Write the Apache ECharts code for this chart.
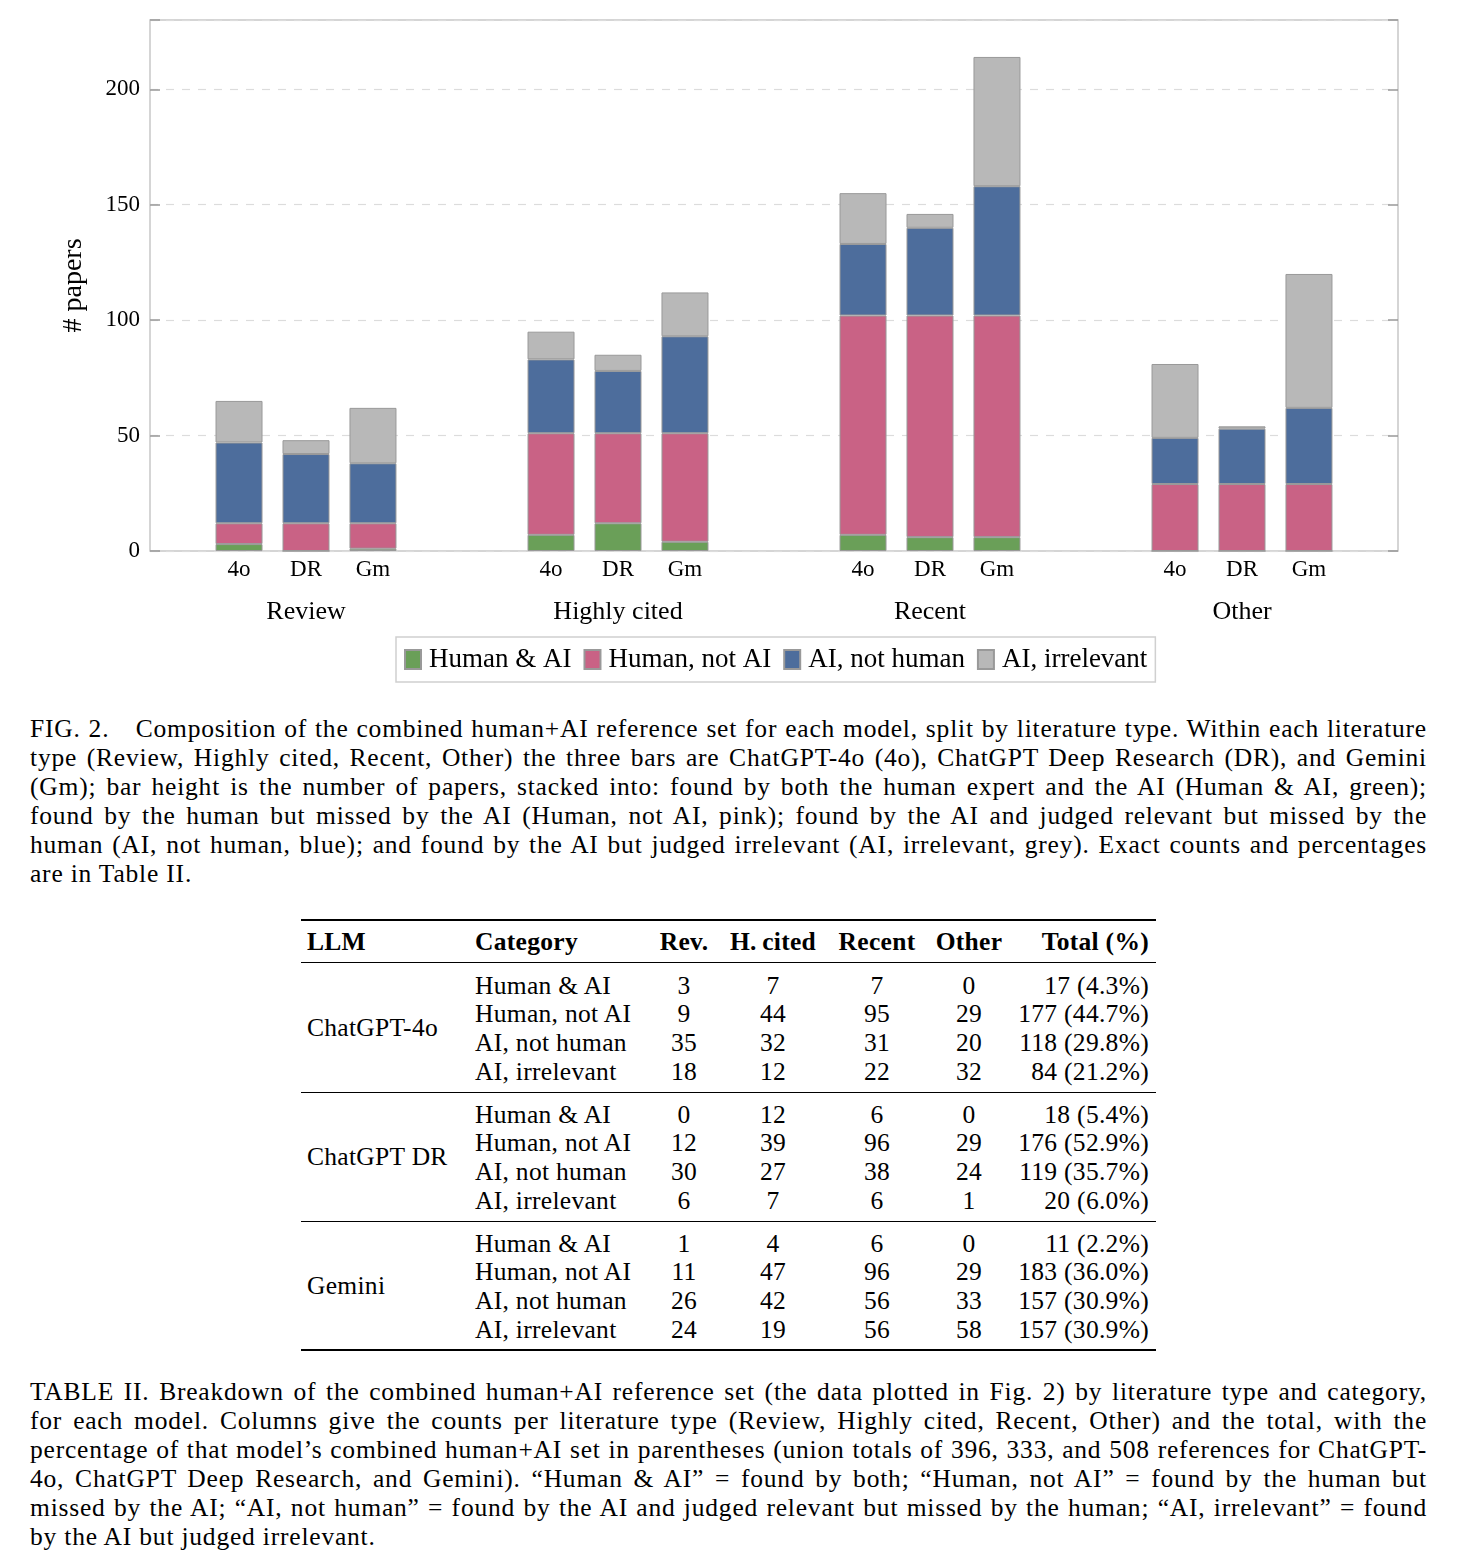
<!DOCTYPE html>
<html>
<head>
<meta charset="utf-8">
<script src="https://cdn.jsdelivr.net/npm/echarts@6/dist/echarts.min.js"></script>
<style>
  html, body { margin: 0; padding: 0; background: #fff; }
  body { width: 1463px; height: 1566px; position: relative; overflow: hidden;
         font-family: "Liberation Serif", "DejaVu Serif", serif; color: #000; }
  #chart { position: absolute; left: 0; top: 0; width: 1463px; height: 700px; }
  .cap { position: absolute; left: 30px; width: 1397px; font-size: 25.5px; line-height: 29px; letter-spacing: 0.8px; }
  .cap div { white-space: nowrap; text-align: justify; text-align-last: justify; }
  .cap div.last { text-align-last: left; }
  .cell { position: absolute; font-size: 25.5px; line-height: 29px; white-space: nowrap; letter-spacing: 0.3px; }
  .rule { position: absolute; left: 301px; width: 855px; background: #000; }
</style>
</head>
<body>
<div id="chart"></div>
<div class="cap" id="figcap" style="top:714px"></div>
<div id="table"></div>
<div class="cap" id="tabcap" style="top:1377px"></div>
<script>
// ---------- data ----------
const literatureTypes = ['Review', 'Highly cited', 'Recent', 'Other'];
const tableColumns = ['Rev.', 'H.\u2009cited', 'Recent', 'Other'];
const modelShort = ['4o', 'DR', 'Gm'];
const modelNames = ['ChatGPT-4o', 'ChatGPT DR', 'Gemini'];
const segments = ['Human & AI', 'Human, not AI', 'AI, not human', 'AI, irrelevant'];

const gpt4oHumanAI      = [3, 7, 7, 0];
const gpt4oHumanNotAI   = [9, 44, 95, 29];
const gpt4oAINotHuman   = [35, 32, 31, 20];
const gpt4oAIIrrelevant = [18, 12, 22, 32];

const drHumanAI      = [0, 12, 6, 0];
const drHumanNotAI   = [12, 39, 96, 29];
const drAINotHuman   = [30, 27, 38, 24];
const drAIIrrelevant = [6, 7, 6, 1];

const gmHumanAI      = [1, 4, 6, 0];
const gmHumanNotAI   = [11, 47, 96, 29];
const gmAINotHuman   = [26, 42, 56, 33];
const gmAIIrrelevant = [24, 19, 56, 58];

const unionTotals = [396, 333, 508];
const yTicks = [0, 50, 100, 150, 200];

const modelData = [
  [gpt4oHumanAI, gpt4oHumanNotAI, gpt4oAINotHuman, gpt4oAIIrrelevant],
  [drHumanAI, drHumanNotAI, drAINotHuman, drAIIrrelevant],
  [gmHumanAI, gmHumanNotAI, gmAINotHuman, gmAIIrrelevant]
];

// ---------- style ----------
const segColors = ['#6a9f58', '#c96285', '#4d6d9c', '#b8b8b8'];
const FONT = '"Liberation Serif", "DejaVu Serif", serif';

const series = [];
modelData.forEach((segs, m) => {
  segs.forEach((vals, s) => {
    const sr = {
      type: 'bar',
      name: segments[s],
      stack: 'model' + m,
      data: vals,
      barWidth: 47,
      barGap: '42.5%',
      itemStyle: { color: segColors[s], borderColor: '#999', borderWidth: 1 },
      emphasis: { disabled: true }
    };
    if (s === 0) {
      sr.label = {
        show: true, position: 'bottom', distance: 7,
        formatter: () => modelShort[m],
        fontSize: 23, fontFamily: FONT, color: '#000'
      };
    }
    series.push(sr);
  });
});

const chart = echarts.init(document.getElementById('chart'), null, { renderer: 'canvas' });
chart.setOption({
  animation: false,
  textStyle: { fontFamily: FONT, color: '#000' },
  grid: { left: 150, top: 20, width: 1248, height: 531, show: true,
          borderColor: '#c8c8c8', borderWidth: 1.5, backgroundColor: 'transparent' },
  legend: {
    data: segments, left: 396, top: 637, padding: [9, 8, 9, 8],
    itemWidth: 16, itemHeight: 19, itemGap: 12, icon: 'rect',
    borderColor: '#d0d0d0', borderWidth: 1.5,
    textStyle: { fontSize: 27, fontFamily: FONT, color: '#000', padding: [0, 0, 0, 3] },
    selectedMode: false
  },
  xAxis: {
    type: 'category', data: literatureTypes,
    axisLine: { show: false }, axisTick: { show: false },
    axisLabel: { margin: 48, fontSize: 26, fontFamily: FONT, color: '#000' },
    splitLine: { show: false }
  },
  yAxis: [
    {
      type: 'value', min: 0, max: 230, interval: 50,
      name: '# papers', nameLocation: 'middle', nameGap: 62, nameRotate: 90,
      nameTextStyle: { fontSize: 28, fontFamily: FONT, color: '#000' },
      axisLine: { show: false },
      axisTick: { show: true, inside: true, length: 10, lineStyle: { color: '#999', width: 1.5 } },
      axisLabel: { margin: 10, fontSize: 23, fontFamily: FONT, color: '#000',
                   formatter: v => (yTicks.indexOf(v) >= 0 ? String(v) : '') },
      splitLine: { show: true, lineStyle: { color: '#dcdcdc', type: [8, 8], width: 1.2 } }
    },
    {
      type: 'value', min: 0, max: 230, interval: 50, position: 'right',
      axisLine: { show: false },
      axisTick: { show: true, inside: true, length: 10, lineStyle: { color: '#999', width: 1.5 } },
      axisLabel: { show: false }, splitLine: { show: false }
    }
  ],
  series: series
});

// ---------- captions ----------
const figCapLines = [
  'FIG. 2.\u2003Composition of the combined human+AI reference set for each model, split by literature type. Within each literature',
  'type (Review, Highly cited, Recent, Other) the three bars are ChatGPT-4o (4o), ChatGPT Deep Research (DR), and Gemini',
  '(Gm); bar height is the number of papers, stacked into: found by both the human expert and the AI (Human & AI, green);',
  'found by the human but missed by the AI (Human, not AI, pink); found by the AI and judged relevant but missed by the',
  'human (AI, not human, blue); and found by the AI but judged irrelevant (AI, irrelevant, grey). Exact counts and percentages',
  'are in Table II.'
];
const tabCapLines = [
  'TABLE II. Breakdown of the combined human+AI reference set (the data plotted in Fig. 2) by literature type and category,',
  'for each model. Columns give the counts per literature type (Review, Highly cited, Recent, Other) and the total, with the',
  'percentage of that model\u2019s combined human+AI set in parentheses (union totals of 396, 333, and 508 references for ChatGPT-',
  '4o, ChatGPT Deep Research, and Gemini). \u201CHuman & AI\u201D = found by both; \u201CHuman, not AI\u201D = found by the human but',
  'missed by the AI; \u201CAI, not human\u201D = found by the AI and judged relevant but missed by the human; \u201CAI, irrelevant\u201D = found',
  'by the AI but judged irrelevant.'
];
function fillCap(id, lines) {
  const el = document.getElementById(id);
  lines.forEach((t, i) => {
    const d = document.createElement('div');
    d.textContent = t;
    if (i === lines.length - 1) d.className = 'last';
    el.appendChild(d);
  });
}
fillCap('figcap', figCapLines);
fillCap('tabcap', tabCapLines);

// ---------- table ----------
const tbl = document.getElementById('table');
function rule(y, h) {
  const r = document.createElement('div');
  r.className = 'rule'; r.style.top = y + 'px'; r.style.height = h + 'px';
  tbl.appendChild(r);
}
function cell(text, x, yc, align, bold) {
  const c = document.createElement('div');
  c.className = 'cell';
  c.textContent = text;
  c.style.top = (yc - 14.5) + 'px';
  if (bold) c.style.fontWeight = 'bold';
  if (align === 'left') { c.style.left = x + 'px'; }
  else if (align === 'right') { c.style.right = (1463 - x) + 'px'; }
  else { c.style.left = (x - 100) + 'px'; c.style.width = '200px'; c.style.textAlign = 'center'; }
  tbl.appendChild(c);
}
const colCenters = [684, 773, 877, 969];
rule(919, 2.2);
cell('LLM', 307, 941, 'left', true);
cell('Category', 475, 941, 'left', true);
tableColumns.forEach((h, i) => cell(h, colCenters[i], 941, 'center', true));
cell('Total (%)', 1149, 941, 'right', true);
rule(962, 1.3);
modelData.forEach((segs, m) => {
  const y0 = 963 + m * 129;
  cell(modelNames[m], 307, y0 + 64.5, 'left', false);
  segs.forEach((vals, s) => {
    const yc = y0 + 22 + s * 28.7;
    cell(segments[s], 475, yc, 'left', false);
    vals.forEach((v, i) => cell(String(v), colCenters[i], yc, 'center', false));
    const tot = vals.reduce((a, b) => a + b, 0);
    cell(tot + ' (' + (100 * tot / unionTotals[m]).toFixed(1) + '%)', 1149, yc, 'right', false);
  });
  if (m < 2) rule(y0 + 128.5, 1.3);
});
rule(1349, 2.2);
</script>
</body>
</html>
